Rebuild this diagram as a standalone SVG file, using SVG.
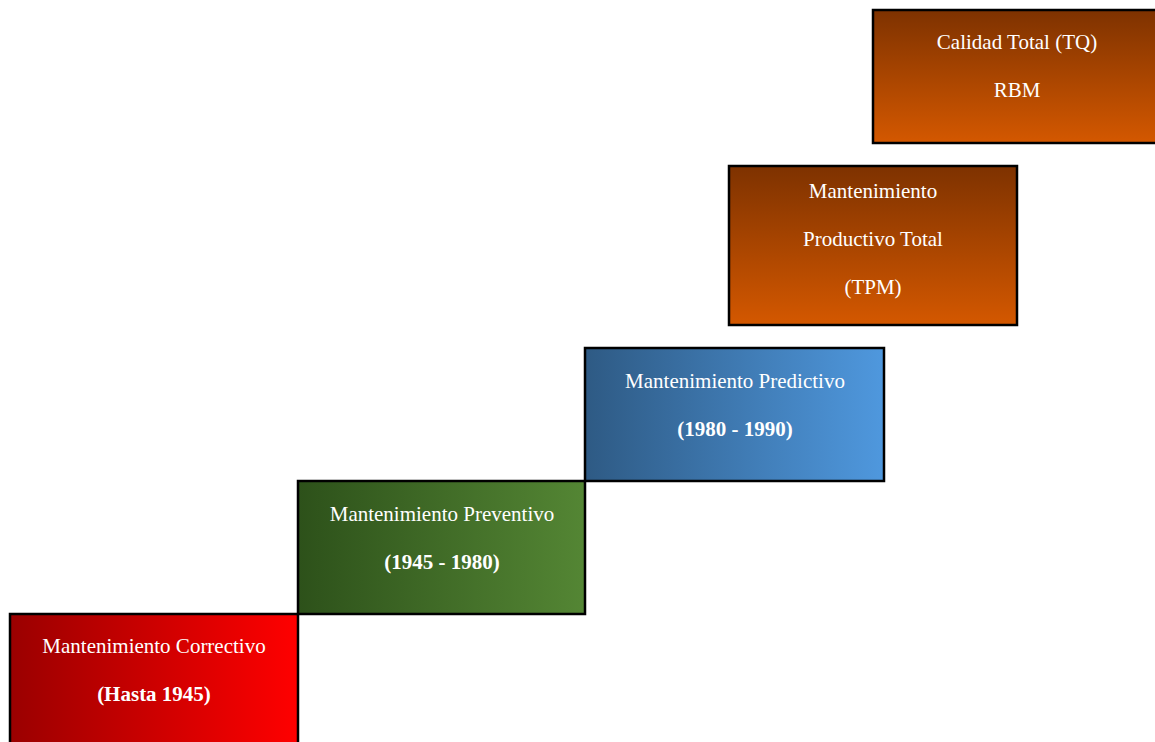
<svg xmlns="http://www.w3.org/2000/svg" width="1155" height="742" viewBox="0 0 1155 742">
<defs>
<linearGradient id="gRed" x1="0" y1="0" x2="1" y2="0"><stop offset="0" stop-color="#9a0000"/><stop offset="1" stop-color="#ff0000"/></linearGradient>
<linearGradient id="gGreen" x1="0" y1="0" x2="1" y2="0"><stop offset="0" stop-color="#2d511a"/><stop offset="1" stop-color="#548634"/></linearGradient>
<linearGradient id="gBlue" x1="0" y1="0" x2="1" y2="0"><stop offset="0" stop-color="#2e5a84"/><stop offset="1" stop-color="#4f98de"/></linearGradient>
<linearGradient id="gOrange" x1="0" y1="0" x2="0" y2="1"><stop offset="0" stop-color="#7e3200"/><stop offset="1" stop-color="#d45800"/></linearGradient>
</defs>
<style>
.box{stroke:#000;stroke-width:2.5}
.t{font-family:"Liberation Serif","Times New Roman",serif;font-size:21px;fill:#fff;text-anchor:middle}
.b{font-weight:bold}
</style>
<rect width="1155" height="742" fill="#fff"/>
<g id="n1">
<rect class="box" x="10" y="614" width="288" height="150" fill="url(#gRed)"/>
<text class="t" x="154" y="653">Mantenimiento Correctivo</text>
<text class="t b" x="154" y="701">(Hasta 1945)</text>
</g>
<g id="n2">
<rect class="box" x="298" y="481" width="287" height="133" fill="url(#gGreen)"/>
<text class="t" x="442" y="521">Mantenimiento Preventivo</text>
<text class="t b" x="442" y="569">(1945 - 1980)</text>
</g>
<g id="n3">
<rect class="box" x="585" y="348" width="299" height="133" fill="url(#gBlue)"/>
<text class="t" x="735" y="388">Mantenimiento Predictivo</text>
<text class="t b" x="735" y="436">(1980 - 1990)</text>
</g>
<g id="n4">
<rect class="box" x="729" y="166" width="288" height="159" fill="url(#gOrange)"/>
<text class="t" x="873" y="198">Mantenimiento</text>
<text class="t" x="873" y="246">Productivo Total</text>
<text class="t" x="873" y="294">(TPM)</text>
</g>
<g id="n5">
<rect class="box" x="873" y="10" width="300" height="133" fill="url(#gOrange)"/>
<text class="t" x="1017" y="49">Calidad Total (TQ)</text>
<text class="t" x="1017" y="97">RBM</text>
</g>
<g id="connectors"/>
</svg>
